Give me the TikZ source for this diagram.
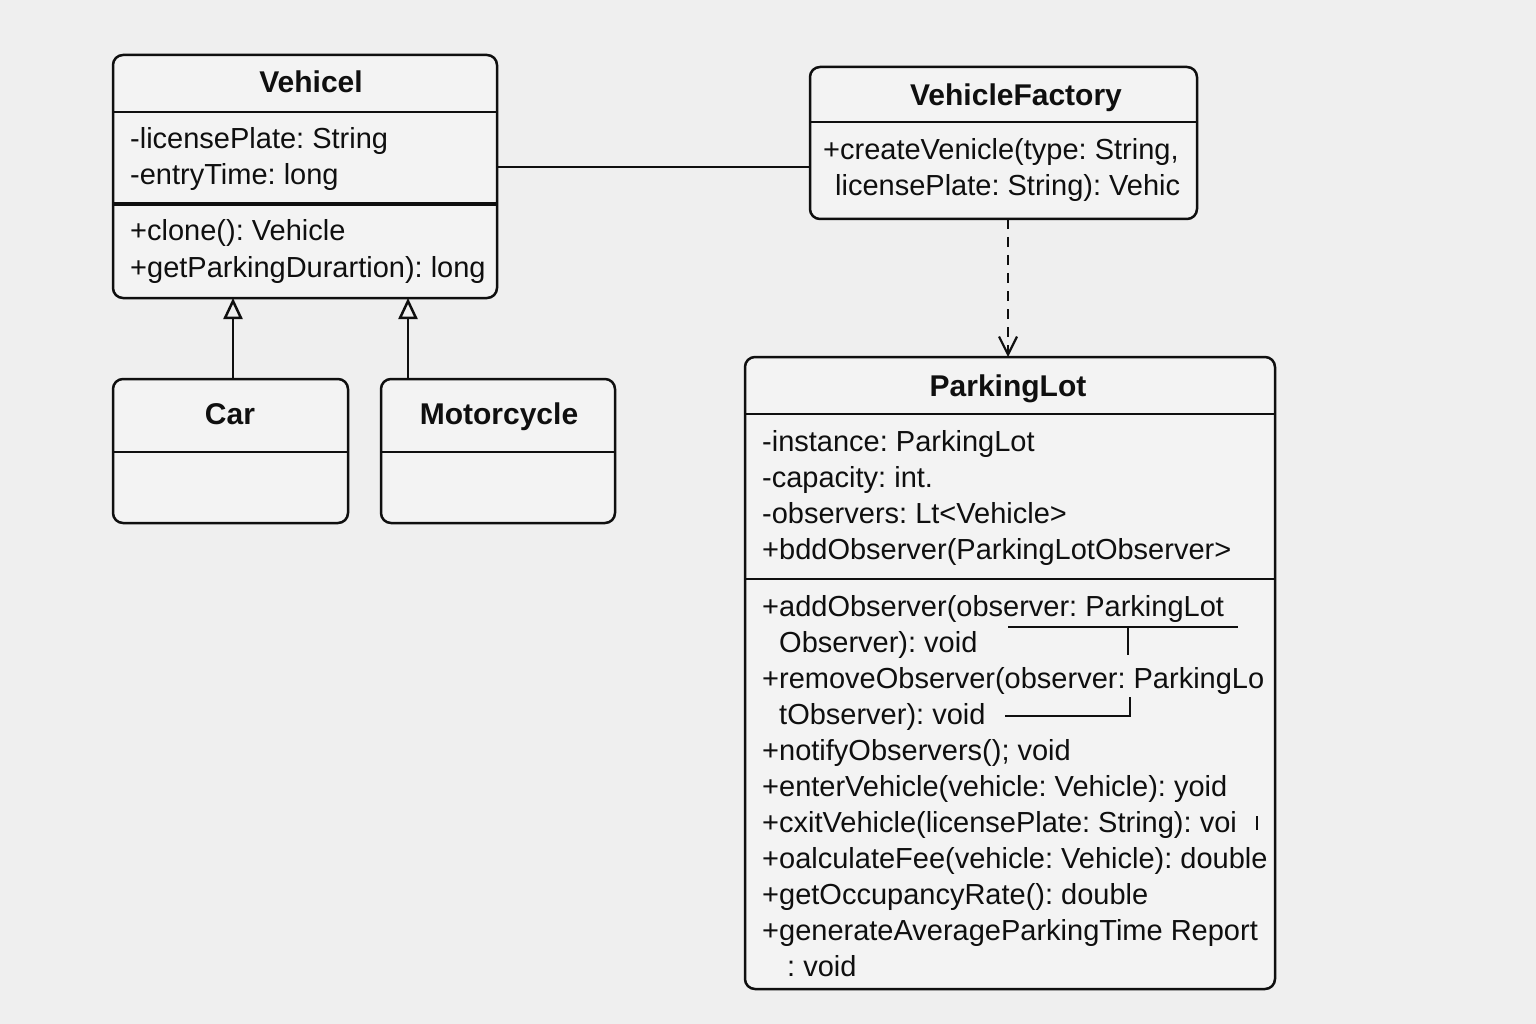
\documentclass[tikz,border=0pt]{standalone}
\usepackage{fontspec}
\setmainfont{Liberation Sans}
\usetikzlibrary{arrows.meta}
\definecolor{bg}{RGB}{239,239,239}
\definecolor{boxfill}{RGB}{243,243,243}
\definecolor{ink}{RGB}{15,15,15}
\begin{document}
\frenchspacing
\begin{tikzpicture}[x=1pt,y=-1pt,
  box/.style={draw=ink, line width=2.5pt, rounded corners=10pt, fill=boxfill, anchor=north west, inner sep=0pt, outer sep=0pt},
  ttl/.style={font=\fontsize{30}{36}\selectfont\bfseries, anchor=base, inner sep=0pt, text=ink},
  txt/.style={font=\fontsize{29}{35}\selectfont, anchor=base west, inner sep=0pt, text=ink},
  sep/.style={draw=ink, line width=2.5pt},
  inherit/.style={draw=ink, line width=2.5pt, -{Triangle[open, length=21pt, width=19pt, fill=bg]}},
  dep/.style={draw=ink, line width=2.2pt, dash pattern=on 10pt off 8pt, -{Straight Barb[length=18pt, width=18pt]}},
  stray/.style={draw=ink, line width=2.5pt}
]
\fill[bg] (0,0) rectangle (1536,1024);
\useasboundingbox (0,0) rectangle (1536,1024);

% ---- Vehicel ----
\node[box, minimum width=384pt, minimum height=243pt] (veh) at (113,55) {};
\draw[sep] (113,112) -- (497,112);
\draw[sep, line width=3.2pt] (113,204) -- (497,204);
\node[ttl] (vehT) at (311,93) {Vehicel};
\node[txt] (veh1) at (130,149) {-licensePlate: String};
\node[txt] (veh2) at (130,185) {-entryTime: long};
\node[txt] (veh3) at (130,241) {+clone(): Vehicle};
\node[txt] (veh4) at (130,277) {+getParkingDurartion): long};

% ---- VehicleFactory ----
\node[box, minimum width=387pt, minimum height=152pt] (fac) at (810,67) {};
\draw[sep] (810,122) -- (1197,122);
\node[ttl] (facT) at (1016,106) {VehicleFactory};
\node[txt] (fac1) at (823,160) {+createVenicle(type: String,};
\node[txt] (fac2) at (835,196) {licensePlate: String): Vehic};

% ---- Car ----
\node[box, minimum width=235pt, minimum height=144pt] (car) at (113,379) {};
\draw[sep] (113,452) -- (348,452);
\node[ttl] (carT) at (230,424) {Car};

% ---- Motorcycle ----
\node[box, minimum width=234pt, minimum height=144pt] (moto) at (381,379) {};
\draw[sep] (381,452) -- (615,452);
\node[ttl] (motoT) at (499,424) {Motorcycle};

% ---- ParkingLot ----
\node[box, minimum width=530pt, minimum height=632pt] (lot) at (745,357) {};
\draw[sep] (745,414) -- (1275,414);
\draw[sep] (745,579) -- (1275,579);
\node[ttl] (lotT) at (1008,396) {ParkingLot};
\node[txt] (a1) at (762,451) {-instance: ParkingLot};
\node[txt] (a2) at (762,487) {-capacity: int.};
\node[txt] (a3) at (762,523) {-observers: Lt<Vehicle>};
\node[txt] (a4) at (762,559) {+bddObserver(ParkingLotObserver>};
\node[txt] (m1) at (762,616) {+addObserver(observer: ParkingLot};
\node[txt] (m2) at (779,652) {Observer): void};
\node[txt] (m3) at (762,688) {+removeObserver(observer: ParkingLo};
\node[txt] (m4) at (779,724) {tObserver): void};
\node[txt] (m5) at (762,760) {+notifyObservers(); void};
\node[txt] (m6) at (762,796) {+enterVehicle(vehicle: Vehicle): yoid};
\node[txt] (m7) at (762,832) {+cxitVehicle(licensePlate: String): voi};
\node[txt] (m8) at (762,868) {+oalculateFee(vehicle: Vehicle): double};
\node[txt] (m9) at (762,904) {+getOccupancyRate(): double};
\node[txt] (m10) at (762,940) {+generateAverageParkingTime Report};
\node[txt] (m11) at (787,976) {: void};

% stray marks inside ParkingLot
\draw[stray] (1008,627) -- (1238,627);
\draw[stray] (1128,627) -- (1128,655);
\draw[stray] (1005,716) -- (1131,716);
\draw[stray] (1130,697) -- (1130,717);
\draw[draw=ink, line width=1.8pt] (1257,816) -- (1257,830);

% ---- connectors ----
\coordinate (carTop) at (233,379);
\coordinate (motoTop) at (408,379);
\draw[inherit] (carTop) -- (carTop |- veh.south);
\draw[inherit] (motoTop) -- (motoTop |- veh.south);
\coordinate (vehR) at (497,167);
\draw[draw=ink, line width=2.5pt] (vehR) -- (vehR -| fac.west);
\coordinate (facB) at (1008,219);
\draw[dep] (facB) -- (facB |- lot.north);
\end{tikzpicture}
\end{document}
